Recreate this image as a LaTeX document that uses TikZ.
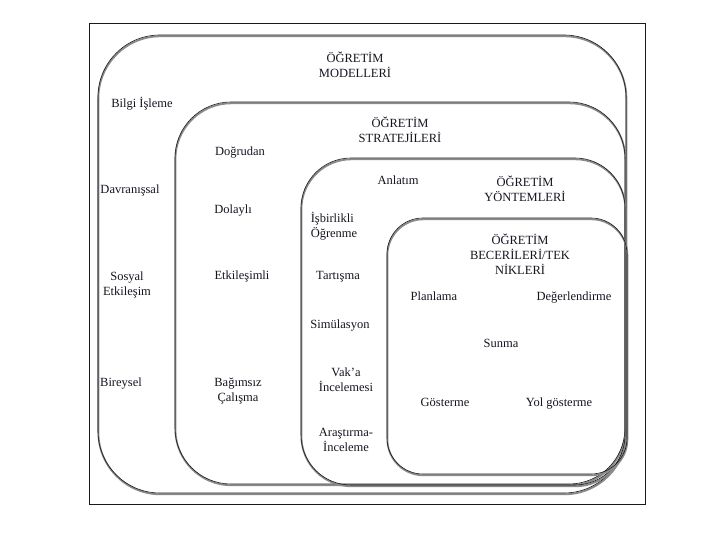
\documentclass[tikz,border=0pt]{standalone}
\usepackage{xcolor}
\usepackage{fontspec}
\setmainfont{Liberation Serif}
\usepackage{tikz}
\usetikzlibrary{positioning}
\definecolor{ogLine}{HTML}{1A1A1A}
\definecolor{ogShadow}{HTML}{8A8A8A}
\definecolor{ogText}{HTML}{151520}
\definecolor{ogWhite}{HTML}{FFFFFF}
\tikzset{
  og-kutu/.style={
    draw=ogLine, line width=0.6bp, inner sep=0pt,
    preaction={draw=ogShadow, line width=1.8bp,
      transform canvas={xshift=0.4bp, yshift=-1.3bp}}
  },
  og-metin/.style={font=\fontsize{12.5bp}{15bp}\selectfont,
    text=ogText, inner sep=1pt, align=center},
  og-tek/.style={og-metin, text height=9bp, text depth=3bp},
  og-sol/.style={og-metin, align=left},
  og-cerceve/.style={draw=ogLine, line width=0.8bp}
}
\begin{document}
\begin{tikzpicture}[x=1bp, y=-1bp]
\useasboundingbox[fill=ogWhite] (0,0) rectangle (720,540);
\draw[og-cerceve] (89,23) rectangle (645,504);

% nested boxes
\node[og-kutu, minimum width=528bp, minimum height=458bp,
  rounded corners=62bp] (modeller) at (362,264) {};
\node[og-kutu, minimum width=450bp, minimum height=382bp,
  rounded corners=56bp] (stratejiler) at (400,293) {};
\node[og-kutu, minimum width=324bp, minimum height=327bp,
  rounded corners=50bp] (yontemler) at (463,321.5) {};
\node[og-kutu, minimum width=240bp, minimum height=256bp,
  rounded corners=36bp] (beceriler) at (507,346) {};

% models
\node[og-metin] (tModel) at (355,65) {ÖĞRETİM\\MODELLERİ};
\node[og-tek] (bilgi) at (142,105) {Bilgi İşleme};
\node[og-tek] (davranis) at (130,191) {Davranışsal};
\node[og-metin] (sosyal) at (127,285) {Sosyal\\Etkileşim};
\node[og-tek] (bireysel) at (121,383) {Bireysel};

% strategies
\node[og-metin] (tStrateji) at (400,130) {ÖĞRETİM\\STRATEJİLERİ};
\node[og-tek] (dogrudan) at (240,153) {Doğrudan};
\node[og-tek] (dolayli) at (233,211) {Dolaylı};
\node[og-tek] (etkilesimli) at (242,277) {Etkileşimli};
\node[og-metin] (bagimsiz) at (238,391) {Bağımsız\\Çalışma};

% methods
\node[og-tek] (anlatim) at (398,182) {Anlatım};
\node[og-metin] (tYontem) at (525,189) {ÖĞRETİM\\YÖNTEMLERİ};
\node[og-sol] (isbirlikli) at (334,226) {İşbirlikli\\Öğrenme};
\node[og-tek] (tartisma) at (338,277) {Tartışma};
\node[og-tek] (simulasyon) at (340,325) {Simülasyon};
\node[og-metin] (vaka) at (346,380) {Vak’a\\İncelemesi};
\node[og-metin] (arastirma) at (346,440) {Araştırma-\\İnceleme};

% skills / techniques
\node[og-metin] (tBeceri) at (520,254) {ÖĞRETİM\\BECERİLERİ/TEK\\NİKLERİ};
\node[og-tek] (planlama) at (434,297) {Planlama};
\node[og-tek] (degerlendirme) at (574,297) {Değerlendirme};
\node[og-tek] (sunma) at (501,344) {Sunma};
\node[og-tek] (gosterme) at (445,403) {Gösterme};
\node[og-tek] (yol) at (559,403) {Yol gösterme};
\end{tikzpicture}
\end{document}
